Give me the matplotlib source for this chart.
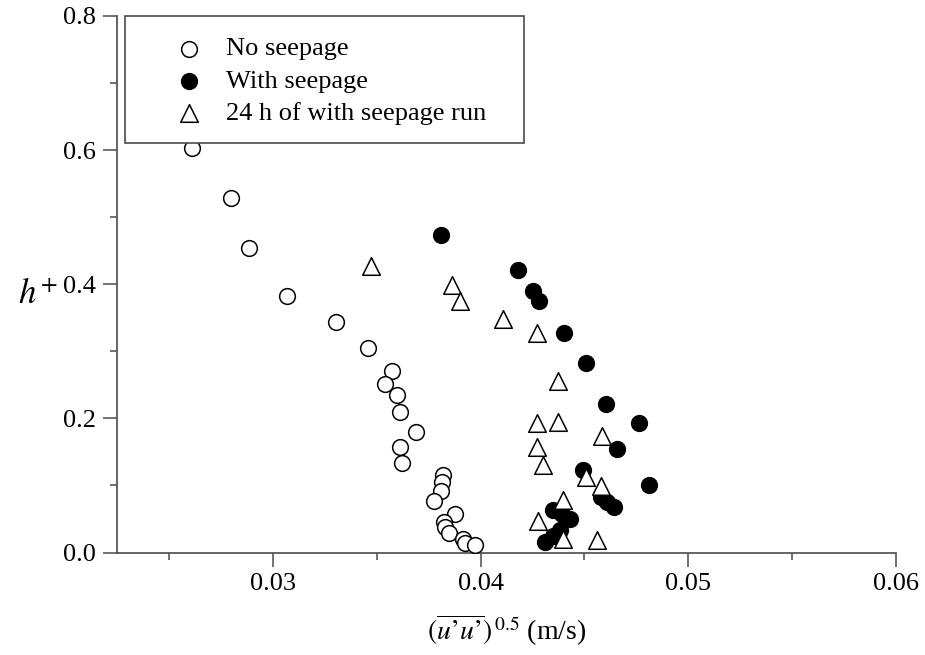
import matplotlib

matplotlib.use("Agg")

import matplotlib.pyplot as plt
from matplotlib.patches import Rectangle
from matplotlib.ticker import MultipleLocator, FormatStrFormatter

plt.rcParams["font.family"] = ["Liberation Serif", "DejaVu Serif"]
plt.rcParams["mathtext.fontset"] = "stix"

# --- Dados ----------------------------------------------------------------
x_sem = [0.0261, 0.0280, 0.02887, 0.0307, 0.03303, 0.03456, 0.03574, 0.03542,
         0.03597, 0.03614, 0.0369, 0.03611, 0.03624, 0.03821, 0.03815, 0.03808,
         0.03778, 0.03879, 0.03823, 0.03829, 0.0385, 0.03917, 0.03927, 0.03974]
y_sem = [0.603, 0.528, 0.4545, 0.3824, 0.344, 0.3045, 0.270, 0.252,
         0.2355, 0.2097, 0.1794, 0.1575, 0.1331, 0.1152, 0.1057, 0.0922,
         0.0764, 0.0575, 0.0455, 0.0385, 0.0296, 0.0197, 0.0146, 0.0107]

x_com = [0.0381, 0.04182, 0.04254, 0.04282, 0.04401, 0.0451, 0.04604, 0.04765,
         0.04656, 0.04494, 0.0481, 0.04579, 0.04609, 0.04643, 0.04349, 0.04391,
         0.04431, 0.04311, 0.04348, 0.04383]
y_com = [0.4739, 0.4206, 0.3899, 0.3749, 0.3272, 0.2833, 0.2212, 0.1937,
         0.154, 0.1224, 0.1012, 0.0828, 0.0758, 0.0684, 0.0634, 0.057,
         0.0504, 0.0161, 0.0251, 0.0336]

x_24h = [0.03474, 0.03864, 0.03901, 0.0411, 0.04271, 0.04375, 0.04271, 0.04375,
         0.04271, 0.04303, 0.04587, 0.04508, 0.04579, 0.04399, 0.04278, 0.04399,
         0.0456]
y_24h = [0.4266, 0.3988, 0.3749, 0.3485, 0.3276, 0.2552, 0.1928, 0.1948,
         0.157, 0.131, 0.1743, 0.1122, 0.0993, 0.0784, 0.0475, 0.0201,
         0.0182]

rotulos = ["No seepage", "With seepage", "24 h of with seepage run"]

fig = plt.figure(figsize=(9.25, 6.55), dpi=100)
fig.subplots_adjust(left=117 / 925, right=896 / 925, bottom=1 - 552.5 / 655, top=1 - 16 / 655)
ax = fig.add_subplot(111)

h1 = ax.scatter(x_sem, y_sem, s=128, marker="o", facecolors="white",
                edgecolors="black", linewidths=1.1, zorder=3)
h2 = ax.scatter(x_com, y_com, s=128, marker="o", facecolors="black",
                edgecolors="black", linewidths=1.1, zorder=4)
h3 = ax.scatter(x_24h, y_24h, s=160, marker="^", facecolors="white",
                edgecolors="black", linewidths=1.1, zorder=5)

ax.set_xlim(0.0225, 0.06)
ax.set_ylim(0.0, 0.8)
ax.xaxis.set_major_locator(MultipleLocator(0.01))
ax.xaxis.set_minor_locator(MultipleLocator(0.005))
ax.yaxis.set_major_locator(MultipleLocator(0.2))
ax.yaxis.set_minor_locator(MultipleLocator(0.1))
ax.xaxis.set_major_formatter(FormatStrFormatter("%.2f"))
ax.yaxis.set_major_formatter(FormatStrFormatter("%.1f"))

cor_eixo = "#4a4a4a"
for lado in ("top", "right"):
    ax.spines[lado].set_visible(False)
for lado in ("left", "bottom"):
    ax.spines[lado].set_color(cor_eixo)
    ax.spines[lado].set_linewidth(1.2)

ax.tick_params(which="major", direction="out", length=10, width=1.1,
               color=cor_eixo, labelsize=19, pad=5)
ax.tick_params(which="minor", direction="out", length=5, width=1.1, color=cor_eixo)

ax.set_xlabel("$(\\overline{u\u2019u\u2019})^{\\,0.5}$ (m/s)", fontsize=20, labelpad=12)
ax.set_ylabel(r"$h^{\!+}$", fontsize=25, rotation=0, labelpad=0)
ax.yaxis.set_label_coords(-(117 - 38) / 779, (552.5 - 296) / 536)
ax.yaxis.label.set_va("center")
ax.yaxis.label.set_ha("center")

# Moldura da legenda (retângulo com cantos retos)
x0 = (125 - 117) / 779
ax.add_patch(Rectangle((x0, 1 - (143 - 16) / 536), (524 - 125) / 779, (143 - 16) / 536,
                       transform=ax.transAxes, facecolor="white", edgecolor=cor_eixo,
                       linewidth=1.2, clip_on=False, zorder=6))
leg = ax.legend([h1, h2, h3], rotulos, loc="upper left",
                bbox_to_anchor=((176 - 117) / 779, 1 - (37 - 16) / 536),
                frameon=False, fontsize=19, handlelength=1.0, handletextpad=0.9,
                labelspacing=0.33, borderpad=0, borderaxespad=0, scatterpoints=1)
leg.set_zorder(7)

fig.savefig("out.png", dpi=100, facecolor="white")
